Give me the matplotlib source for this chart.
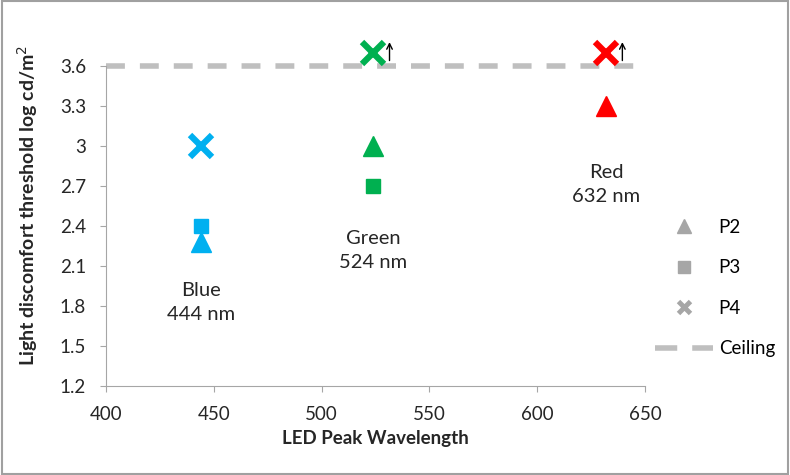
import matplotlib
matplotlib.use('Agg')
from matplotlib import pyplot as plt
from matplotlib.patches import Rectangle

plt.rcParams['font.family'] = ['Lato', 'DejaVu Sans']

# LED peak wavelengths and thresholds (log cd/m2)
wl_blue, wl_green, wl_red = 444, 524, 632
p2 = [2.28, 3.0, 3.3]
p3 = [2.4, 2.7]
p4 = [3.0, 3.7, 3.7]
wl_p2 = [wl_blue, wl_green, wl_red]
wl_p3 = [wl_blue, wl_green]
wl_p4 = [wl_blue, wl_green, wl_red]
colores = ['#00B0F0', '#00B050', '#FF0000']
ceiling = 3.6
etiquetas = [('Blue', '444 nm', wl_blue, 1.92, 1.74),
             ('Green', '524 nm', wl_green, 2.31, 2.13),
             ('Red', '632 nm', wl_red, 2.80, 2.62)]
yticks = [1.2, 1.5, 1.8, 2.1, 2.4, 2.7, 3, 3.3, 3.6]
yticklabels = ['1.2', '1.5', '1.8', '2.1', '2.4', '2.7', '3', '3.3', '3.6']
xticks = [400, 450, 500, 550, 600, 650]

fig = plt.figure(figsize=(7.9, 4.75), dpi=100)
ax = fig.add_axes([106/790, 1-386/475, (645-106)/790, (386-66)/475])

gris = '#A6A6A6'
ax.plot([400, 650], [ceiling, ceiling], ls=(0, (3.4, 2.7)), color='#BFBFBF', lw=4,
        clip_on=False, zorder=2)

for x, y, c in zip(wl_p2, p2, colores):
    ax.plot(x, y, marker='^', ms=15, color=c, ls='none', clip_on=False, zorder=3)
for x, y, c in zip(wl_p3, p3, colores):
    ax.plot(x, y, marker='s', ms=10, color=c, ls='none', clip_on=False, zorder=3)
for x, y, c in zip(wl_p4, p4, colores):
    ax.plot(x, y, marker='x', ms=16, mew=4.5, color=c, ls='none', clip_on=False, zorder=4)

# flechas de "por encima del techo"
for x, y in [(wl_green, 3.7), (wl_red, 3.7)]:
    ax.annotate('', xy=(x + 7.5, y + 0.1), xytext=(x + 7.5, y - 0.08),
                arrowprops=dict(arrowstyle='->', color='black', lw=1), annotation_clip=False)

for nombre, nm, x, y1, y2 in etiquetas:
    ax.text(x, y1, nombre, ha='center', va='center', fontsize=14.5, color='#262626')
    ax.text(x, y2, nm, ha='center', va='center', fontsize=14.5, color='#262626')

ax.set_xlim(400, 650)
ax.set_ylim(1.2, 3.6)
ax.set_xticks(xticks)
ax.set_yticks(yticks)
ax.set_yticklabels(yticklabels)
ax.tick_params(labelsize=13.5, colors='#262626', length=4.5, color=gris)
ax.tick_params(axis='x', pad=10)
ax.tick_params(axis='y', pad=10)
for lado in ['top', 'right']:
    ax.spines[lado].set_visible(False)
for lado in ['left', 'bottom']:
    ax.spines[lado].set_color(gris)
ax.set_xlabel('LED Peak Wavelength', fontsize=13.5, fontweight='bold', color='#262626',
              labelpad=5)
ax.set_ylabel('Light discomfort threshold log cd/m$^2$', fontsize=14, fontweight='bold',
              color='#262626')
ax.yaxis.set_label_coords((40-106)/539, (386-205)/320)

# leyenda a mano en gris
hP2, = ax.plot([], [], marker='^', ms=10, color=gris, ls='none')
hP3, = ax.plot([], [], marker='s', ms=8, color=gris, ls='none')
hP4, = ax.plot([], [], marker='x', ms=9, mew=3.5, color=gris, ls='none')
hC, = ax.plot([], [], ls=(0, (4, 2.7)), color='#BFBFBF', lw=4)
fig.legend([hP2, hP3, hP4, hC], ['P2', 'P3', 'P4', 'Ceiling'], loc='center left',
           bbox_to_anchor=(655/790, 1-288/475), frameon=False, fontsize=13.5,
           labelspacing=1.25, handlelength=3.1, handletextpad=0.3,
           borderpad=0, borderaxespad=0)

fig.patches.append(Rectangle((0.002, 0.002), 0.996, 0.996, transform=fig.transFigure,
                             fill=False, edgecolor='#A0A0A0', lw=1.5))
plt.savefig('out.png', dpi=100)
